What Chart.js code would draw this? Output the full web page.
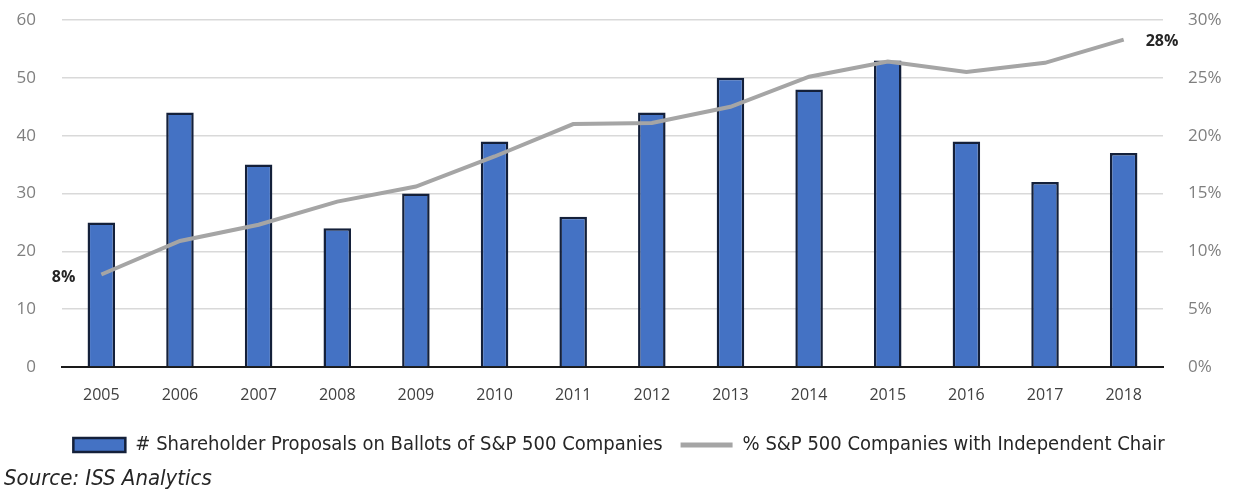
<!DOCTYPE html>
<html>
<head>
<meta charset="utf-8">
<script src="https://cdn.jsdelivr.net/npm/chart.js@4"></script>
<style>
  html, body { margin: 0; padding: 0; background: #fff; }
  #wrap { width: 1238px; height: 495px; }
</style>
</head>
<body>
<div id="wrap"><canvas id="myChart" width="1238" height="495"></canvas></div>
<script>
// data
const years = ['2005', '2006', '2007', '2008', '2009', '2010', '2011', '2012', '2013', '2014', '2015', '2016', '2017', '2018'];
const proposals = [25, 44, 35, 24, 30, 39, 26, 44, 50, 48, 53, 39, 32, 37];
const indepChair = [0.08, 0.109, 0.123, 0.143, 0.156, 0.182, 0.21, 0.211, 0.225, 0.251, 0.264, 0.255, 0.263, 0.283];
const countTicks = [0, 10, 20, 30, 40, 50, 60];
const pctTicks = [0, 0.05, 0.10, 0.15, 0.20, 0.25, 0.30];
const endLabels = ['8%', '28%'];
const sourceText = 'Source: ISS Analytics';

const fontMain = "'Liberation Sans Narrow', 'DejaVu Sans Condensed', 'Liberation Sans', sans-serif";

// end labels on the line + source note
const extras = {
  id: 'extras',
  afterDatasetsDraw(chart) {
    const ctx = chart.ctx;
    const pts = chart.getDatasetMeta(0).data;
    ctx.save();
    ctx.font = "bold 16px 'Open Sans', sans-serif";
    ctx.fillStyle = '#262626';
    ctx.textBaseline = 'middle';
    let first = pts[0];
    ctx.textAlign = 'right';
    ctx.fillText(endLabels[0], first.x - 26, first.y + 3);
    let last = pts[pts.length - 1];
    ctx.textAlign = 'left';
    ctx.fillText(endLabels[1], last.x + 22, last.y + 2);
    ctx.restore();
  },
  afterDraw(chart) {
    const ctx = chart.ctx;
    ctx.save();
    ctx.font = "italic 22px " + fontMain;
    ctx.fillStyle = '#262626';
    ctx.textAlign = 'left';
    ctx.textBaseline = 'middle';
    ctx.fillText(sourceText, 4, 479);
    ctx.restore();
  }
};

// keep the big tick padding from pushing the plot top down
function fitY(width) {
  return (scale) => {
    scale.width = width;
    scale.paddingTop = 20;
    scale.paddingBottom = 10;
  };
}

const ctx = document.getElementById('myChart');

new Chart(ctx, {
  type: 'bar',
  data: {
    labels: years,
    datasets: [{
      type: 'line',
      label: '% S&P 500 Companies with Independent Chair',
      data: indepChair,
      yAxisID: 'y2',
      borderColor: '#a5a5a5',
      backgroundColor: '#a5a5a5',
      borderWidth: 4,
      pointRadius: 0,
      tension: 0,
      order: 0
    }, {
      label: '# Shareholder Proposals on Ballots of S&P 500 Companies',
      data: proposals,
      yAxisID: 'y',
      backgroundColor: '#4472c4',
      borderColor: '#14203a',
      borderWidth: 2.5,
      categoryPercentage: 1,
      barPercentage: 0.35,
      order: 1
    }]
  },
  options: {
    responsive: false,
    animation: false,
    layout: { padding: { top: 0, bottom: 30, left: 0, right: 0 } },
    plugins: {
      tooltip: { enabled: false },
      legend: {
        position: 'bottom',
        reverse: true,
        labels: {
          color: '#262626',
          font: { family: fontMain, size: 20 },
          usePointStyle: true,
          pointStyleWidth: 52,
          boxHeight: 14,
          padding: 18,
          generateLabels(chart) {
            const items = Chart.defaults.plugins.legend.labels.generateLabels(chart);
            items.forEach(it => {
              if (it.datasetIndex === 1) {
                it.pointStyle = 'rect';
                it.fillStyle = '#4472c4';
                it.strokeStyle = '#14203a';
                it.lineWidth = 2.5;
              } else {
                it.pointStyle = 'line';
                it.strokeStyle = '#a5a5a5';
                it.lineWidth = 5;
              }
            });
            return items;
          }
        }
      }
    },
    scales: {
      x: {
        grid: { display: false },
        border: { color: '#1a1a1a', width: 2 },
        ticks: { color: '#404040', font: { family: "'Open Sans', sans-serif", size: 16 }, padding: 11, maxRotation: 0 },
        afterFit(scale) { scale.height = 50; }
      },
      y: {
        position: 'left',
        min: 0,
        max: 60,
        afterBuildTicks(scale) { scale.ticks = countTicks.map(v => ({ value: v })); },
        grid: {
          color: (c) => c.tick && c.tick.value === 0 ? '#1a1a1a' : '#d9d9d9',
          lineWidth: 1.5,
          drawTicks: false
        },
        border: { display: false },
        ticks: { color: '#7f7f7f', font: { family: "'Open Sans', sans-serif", size: 17 }, padding: 26 },
        afterFit: fitY(62)
      },
      y2: {
        position: 'right',
        min: 0,
        max: 0.30,
        afterBuildTicks(scale) { scale.ticks = pctTicks.map(v => ({ value: v })); },
        grid: { display: false, drawTicks: false },
        border: { display: false },
        ticks: {
          color: '#7f7f7f',
          font: { family: "'Open Sans', sans-serif", size: 17 },
          padding: 25,
          callback: (v) => Math.round(v * 100) + '%'
        },
        afterFit: fitY(75)
      }
    }
  },
  plugins: [extras]
});
</script>
</body>
</html>
